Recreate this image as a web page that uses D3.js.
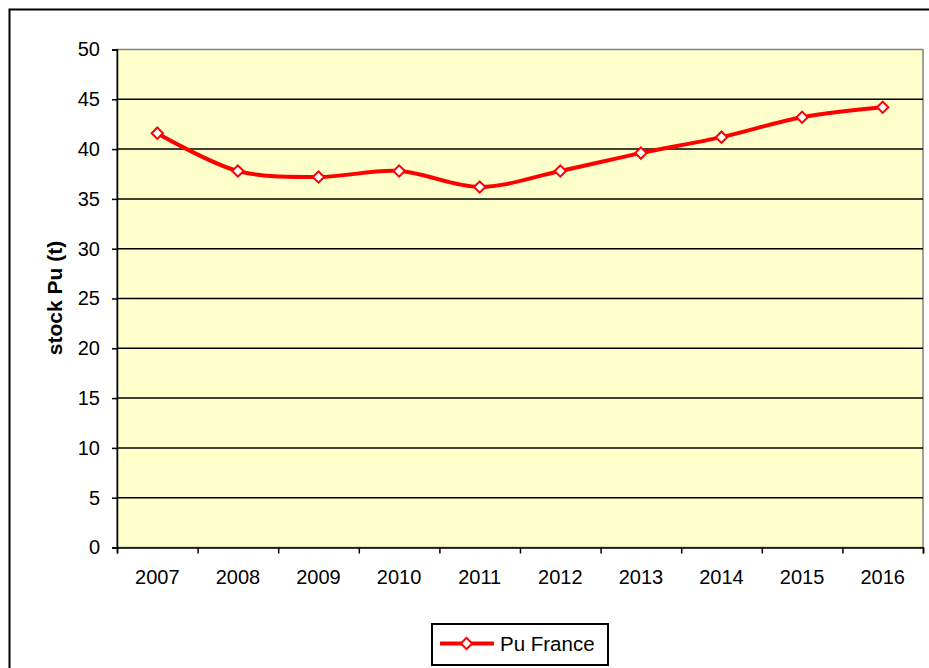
<!DOCTYPE html>
<html lang="en">
	<head>
		<meta charset="UTF-8" />
		<title>stock Pu France</title>
		<script src="https://d3js.org/d3.v7.min.js"></script>
		<style>
			body {
				margin: 0;
				background: #fff;
			}
			svg {
				display: block;
			}
			text {
				font-family: Arial, 'Liberation Sans', sans-serif;
				fill: black;
			}
		</style>
	</head>
	<body>
		<svg width="929" height="668"></svg>
		<script>
			// data
			const years = ['2007', '2008', '2009', '2010', '2011', '2012', '2013', '2014', '2015', '2016'];
			const puFrance = [41.6, 37.8, 37.2, 37.8, 36.2, 37.8, 39.6, 41.2, 43.2, 44.2];
			const yTicks = [0, 5, 10, 15, 20, 25, 30, 35, 40, 45, 50];
			const seriesName = 'Pu France';
			const yTitle = 'stock Pu (t)';

			const svg = d3.select('svg');
			const plotLeft = 117,
				plotRight = 923,
				plotTop = 49.5,
				plotBottom = 547.5;

			// outer chart frame (runs off the picture on right and bottom)
			svg.append('rect')
				.attr('x', 9.5)
				.attr('y', 9.5)
				.attr('width', 940)
				.attr('height', 680)
				.attr('fill', 'none')
				.attr('stroke', '#000')
				.attr('stroke-width', 2);

			const x = d3.scaleBand().domain(years).range([plotLeft, plotRight]).padding(0);
			const y = d3.scaleLinear().domain([0, 50]).range([plotBottom, plotTop]);

			// plot area
			svg.append('rect')
				.attr('x', plotLeft)
				.attr('y', plotTop)
				.attr('width', plotRight - plotLeft)
				.attr('height', plotBottom - plotTop)
				.attr('fill', '#ffffcc')
				.attr('stroke', '#808080')
				.attr('stroke-width', 1.5);

			// gridlines
			svg.append('g')
				.selectAll('line')
				.data(yTicks.filter((d) => d > 0 && d < 50))
				.enter()
				.append('line')
				.attr('x1', plotLeft)
				.attr('x2', plotRight)
				.attr('y1', (d) => y(d))
				.attr('y2', (d) => y(d))
				.attr('stroke', '#000')
				.attr('stroke-width', 1.5);

			// y axis
			const yAxis = svg
				.append('g')
				.attr('transform', `translate(${plotLeft},0)`)
				.call(d3.axisLeft(y).tickValues(yTicks).tickSize(5).tickPadding(12));
			yAxis.select('.domain').attr('stroke', '#000').attr('stroke-width', 1.5);
			yAxis.selectAll('.tick line').attr('stroke', '#000').attr('stroke-width', 1.5);
			yAxis.selectAll('text').style('font-size', '20px').attr('fill', '#000');

			// x axis: ticks on category boundaries, labels centred in bands
			const xEdge = d3.scaleLinear().domain([0, years.length]).range([plotLeft, plotRight]);
			const xTicks = svg
				.append('g')
				.attr('transform', `translate(0,${plotBottom})`)
				.call(d3.axisBottom(xEdge).ticks(years.length).tickSize(6).tickFormat(''));
			xTicks.select('.domain').attr('stroke', '#000').attr('stroke-width', 1.5);
			xTicks.selectAll('.tick line').attr('stroke', '#000').attr('stroke-width', 1.5);

			const xLabels = svg
				.append('g')
				.attr('transform', `translate(0,${plotBottom})`)
				.call(d3.axisBottom(x).tickSize(0).tickPadding(22));
			xLabels.select('.domain').remove();
			xLabels.selectAll('text').style('font-size', '20px').attr('fill', '#000');

			// y title
			svg.append('text')
				.attr('transform', 'translate(56,298) rotate(-90)')
				.attr('text-anchor', 'middle')
				.attr('dominant-baseline', 'middle')
				.style('font-size', '21px')
				.style('font-weight', 'bold')
				.text(yTitle);

			// series
			const pts = years.map((yr, i) => [x(yr) + x.bandwidth() / 2, y(puFrance[i])]);
			svg.append('path')
				.datum(pts)
				.attr('fill', 'none')
				.attr('stroke', '#ff0000')
				.attr('stroke-width', 4)
				.attr('d', d3.line().curve(d3.curveCatmullRom.alpha(0.5)));

			const diamond = d3.symbol().type(d3.symbolSquare).size(64);
			svg.append('g')
				.selectAll('path')
				.data(pts)
				.enter()
				.append('path')
				.attr('transform', (d) => `translate(${d[0]},${d[1]}) rotate(45)`)
				.attr('d', diamond)
				.attr('fill', '#fff')
				.attr('stroke', '#ff0000')
				.attr('stroke-width', 2);

			// legend
			const lg = svg.append('g');
			lg.append('rect')
				.attr('x', 432)
				.attr('y', 624)
				.attr('width', 176)
				.attr('height', 41)
				.attr('fill', '#fff')
				.attr('stroke', '#000')
				.attr('stroke-width', 2);
			lg.append('line')
				.attr('x1', 440)
				.attr('x2', 494)
				.attr('y1', 643.5)
				.attr('y2', 643.5)
				.attr('stroke', '#ff0000')
				.attr('stroke-width', 4);
			lg.append('path')
				.attr('transform', 'translate(466.5,643.5) rotate(45)')
				.attr('d', diamond)
				.attr('fill', '#fff')
				.attr('stroke', '#ff0000')
				.attr('stroke-width', 2);
			lg.append('text')
				.attr('x', 500)
				.attr('y', 643.5)
				.attr('dominant-baseline', 'central')
				.style('font-size', '20.5px')
				.text(seriesName);
		</script>
	</body>
</html>
